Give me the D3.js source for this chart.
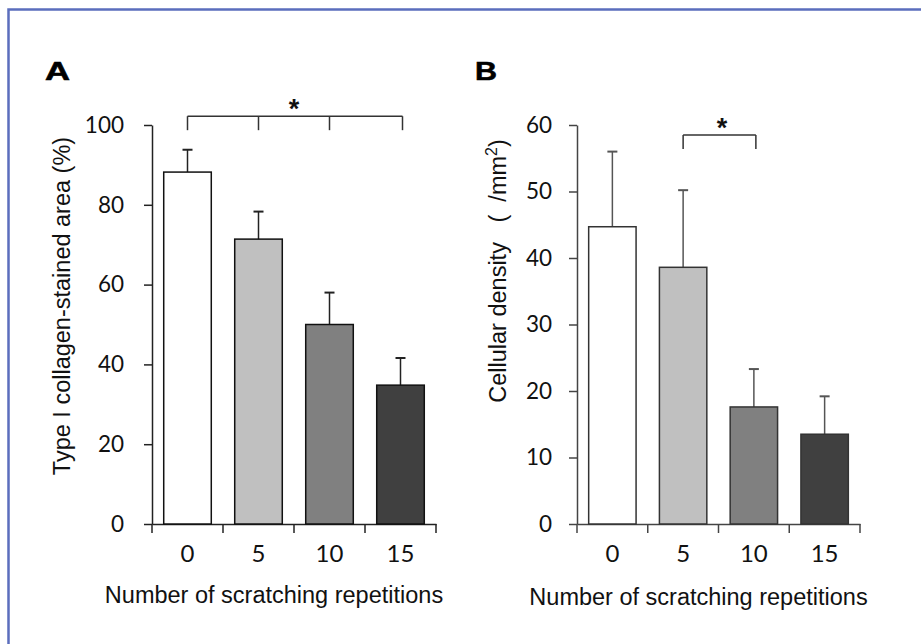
<!DOCTYPE html>
<html>
<head>
<meta charset="utf-8">
<script src="https://cdn.jsdelivr.net/npm/d3@7"></script>
<style>
  body { margin: 0; background: #fff; }
  svg { display: block; }
</style>
</head>
<body>
<svg id="chart" width="921" height="644"></svg>
<script>
// values
const reps = ["0", "5", "10", "15"];
const collagenMean = [88.2, 71.4, 50.0, 34.8];
const collagenSD = [5.6, 6.9, 8.0, 6.8];
const densityMean = [44.7, 38.6, 17.6, 13.5];
const densitySD = [11.3, 11.6, 5.7, 5.7];
const barFills = ["#ffffff", "#c0c0c0", "#808080", "#404040"];
const collagenTicks = [0, 20, 40, 60, 80, 100];
const densityTicks = [0, 10, 20, 30, 40, 50, 60];

const svg = d3.select("#chart");

// blue frame (left + top edges only, the figure is cropped)
svg.append("path")
    .attr("d", "M8.5,644 V9.5 H921")
    .attr("fill", "none")
    .attr("stroke", "#5b6ebd")
    .attr("stroke-width", 2.5);

const titleFont = "'Liberation Sans', Arial, sans-serif";
const tickFont = "Lato, 'Open Sans', sans-serif";

function drawPanel(opt) {
    const g = svg.append("g");

    const x = d3.scaleBand()
        .domain(reps)
        .range(opt.xRange)
        .paddingInner(0.33)
        .paddingOuter(0.165);

    const y = d3.scaleLinear()
        .domain([0, opt.yMax])
        .range([524, 125]);

    const x0 = opt.xRange[0];

    // y axis
    const yAxis = g.append("g")
        .attr("transform", `translate(${x0},0)`)
        .call(d3.axisLeft(y)
            .tickValues(opt.ticks)
            .tickSize(8)
            .tickSizeOuter(0)
            .tickPadding(opt.yPad));
    yAxis.select(".domain").attr("stroke", opt.axisColor).attr("stroke-width", 1.5);
    yAxis.selectAll(".tick line").attr("stroke", opt.axisColor).attr("stroke-width", 1.5);
    yAxis.selectAll(".tick text")
        .attr("font-family", tickFont)
        .attr("font-size", 22.5)
        .attr("fill", "#111");

    // x axis (labels centred on bars, ticks at band edges)
    const xAxis = g.append("g")
        .attr("transform", "translate(0,524)")
        .call(d3.axisBottom(x).tickSize(0).tickSizeOuter(0).tickPadding(21));
    xAxis.select(".domain").attr("stroke", opt.axisColor).attr("stroke-width", 1.5);
    xAxis.selectAll(".tick text")
        .attr("font-family", tickFont)
        .attr("font-size", 24)
        .attr("fill", "#111");

    g.append("g")
        .selectAll("line")
        .data(d3.range(reps.length + 1))
        .enter()
        .append("line")
        .attr("x1", i => x0 + i * x.step())
        .attr("x2", i => x0 + i * x.step())
        .attr("y1", 524)
        .attr("y2", 533)
        .attr("stroke", opt.axisColor)
        .attr("stroke-width", 1.5);

    // error bars (upper only)
    const err = g.append("g")
        .selectAll("g")
        .data(reps)
        .enter()
        .append("g");
    err.append("line")
        .attr("x1", d => x(d) + x.bandwidth() / 2)
        .attr("x2", d => x(d) + x.bandwidth() / 2)
        .attr("y1", (d, i) => y(opt.mean[i]))
        .attr("y2", (d, i) => y(opt.mean[i] + opt.sd[i]))
        .attr("stroke", opt.errColor)
        .attr("stroke-width", 1.5);
    err.append("line")
        .attr("x1", d => x(d) + x.bandwidth() / 2 - 5)
        .attr("x2", d => x(d) + x.bandwidth() / 2 + 5)
        .attr("y1", (d, i) => y(opt.mean[i] + opt.sd[i]))
        .attr("y2", (d, i) => y(opt.mean[i] + opt.sd[i]))
        .attr("stroke", opt.errColor)
        .attr("stroke-width", 2);

    // bars
    g.append("g")
        .selectAll("rect")
        .data(reps)
        .enter()
        .append("rect")
        .attr("x", d => x(d))
        .attr("y", (d, i) => y(opt.mean[i]))
        .attr("width", x.bandwidth())
        .attr("height", (d, i) => y(0) - y(opt.mean[i]))
        .attr("fill", (d, i) => barFills[i])
        .attr("stroke", opt.barStroke)
        .attr("stroke-width", 1.5);

    // significance bracket
    const bx = opt.bracket.map(d => x(d) + x.bandwidth() / 2);
    const by = y(opt.bracketY);
    const drop = y(opt.bracketY - opt.bracketDrop);
    g.append("line")
        .attr("x1", bx[0]).attr("x2", bx[bx.length - 1] + 2)
        .attr("y1", by).attr("y2", by)
        .attr("stroke", "#333").attr("stroke-width", 1.5);
    g.append("g")
        .selectAll("line")
        .data(bx)
        .enter()
        .append("line")
        .attr("x1", (d, i) => i === bx.length - 1 ? d + 2 : d)
        .attr("x2", (d, i) => i === bx.length - 1 ? d + 2 : d)
        .attr("y1", by)
        .attr("y2", drop)
        .attr("stroke", "#333")
        .attr("stroke-width", 1.5);
    g.append("text")
        .attr("x", opt.starX)
        .attr("y", by + 2)
        .attr("text-anchor", "middle")
        .attr("font-family", titleFont)
        .attr("font-weight", "bold")
        .attr("font-size", 27)
        .attr("fill", "#111")
        .text("*");

    // titles
    g.append("text")
        .attr("x", (opt.xRange[0] + opt.xRange[1]) / 2 - 20)
        .attr("y", opt.xTitleY)
        .attr("text-anchor", "middle")
        .attr("font-family", titleFont)
        .attr("font-size", 23.5)
        .attr("fill", "#111")
        .text("Number of scratching repetitions");

    g.append("text")
        .attr("transform", `translate(${opt.yTitleX},${opt.yTitleY}) rotate(-90)`)
        .attr("text-anchor", "middle")
        .attr("font-family", titleFont)
        .attr("font-size", 23.5)
        .attr("fill", "#111")
        .call(opt.yTitle);

    g.append("text")
        .attr("x", opt.letterX)
        .attr("y", 80)
        .attr("font-family", titleFont)
        .attr("font-weight", "bold")
        .attr("font-size", 26)
        .attr("stroke", "#000")
        .attr("stroke-width", 0.6)
        .attr("textLength", opt.letterW)
        .attr("lengthAdjust", "spacingAndGlyphs")
        .attr("fill", "#000")
        .text(opt.letter);
}

drawPanel({
    xRange: [152, 436],
    yMax: 100,
    ticks: collagenTicks,
    yPad: 20,
    mean: collagenMean,
    sd: collagenSD,
    axisColor: "#222",
    errColor: "#222",
    barStroke: "#111",
    bracket: ["0", "5", "10", "15"],
    bracketY: 102.2,
    bracketDrop: 3.5,
    starX: 294,
    xTitleY: 603,
    yTitleX: 70,
    yTitleY: 306,
    yTitle: t => t.text("Type I collagen-stained area (%)"),
    letter: "A",
    letterX: 45,
    letterW: 25
});

drawPanel({
    xRange: [577, 860],
    yMax: 60,
    ticks: densityTicks,
    yPad: 17,
    mean: densityMean,
    sd: densitySD,
    axisColor: "#444",
    errColor: "#555",
    barStroke: "#333",
    bracket: ["5", "10"],
    bracketY: 58.5,
    bracketDrop: 2.1,
    starX: 722,
    xTitleY: 605,
    yTitleX: 506,
    yTitleY: 271,
    yTitle: t => {
        t.append("tspan").text("Cellular density\u00a0\u00a0\u00a0(\u00a0\u00a0/mm");
        t.append("tspan").attr("font-size", 16).attr("dy", -9).text("2");
        t.append("tspan").attr("dy", 9).text(")");
    },
    letter: "B",
    letterX: 475,
    letterW: 22
});
</script>
</body>
</html>
